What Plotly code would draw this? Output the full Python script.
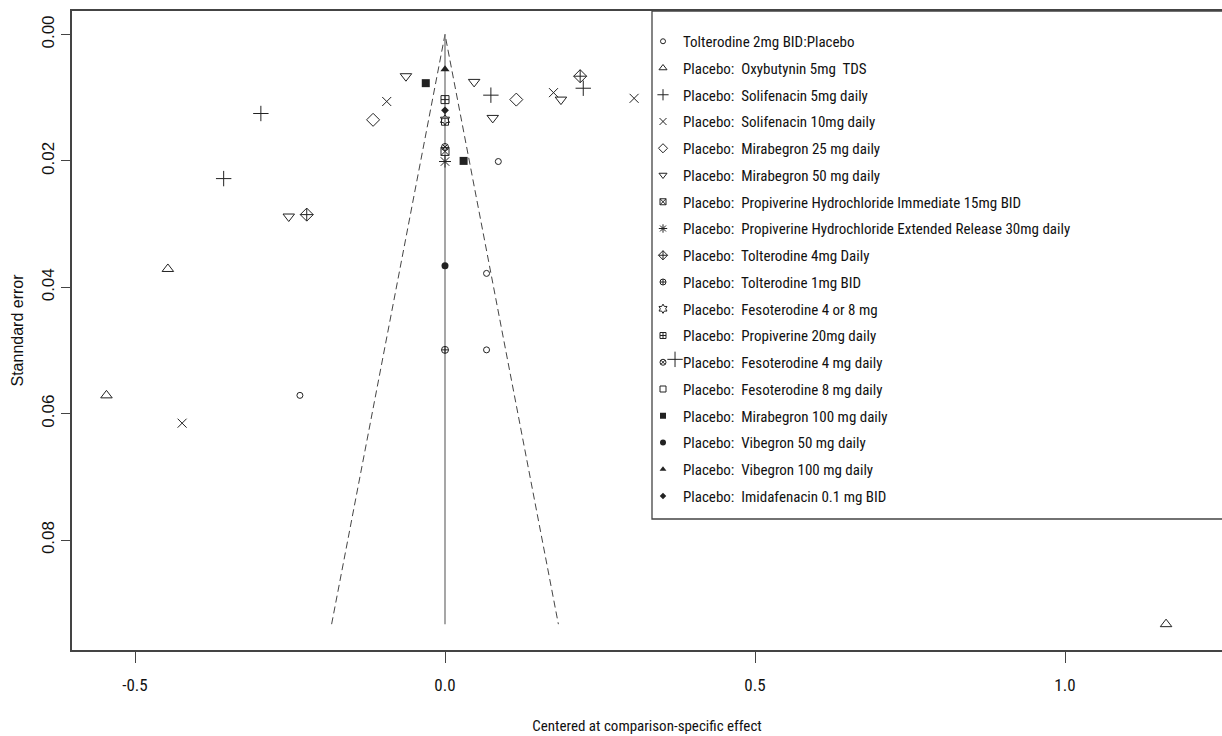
import plotly.graph_objects as go

# ---------------- data (centered effect, standard error) ----------------
series_names = [
    "Tolterodine 2mg BID:Placebo",
    "Placebo:  Oxybutynin 5mg  TDS",
    "Placebo:  Solifenacin 5mg daily",
    "Placebo:  Solifenacin 10mg daily",
    "Placebo:  Mirabegron 25 mg daily",
    "Placebo:  Mirabegron 50 mg daily",
    "Placebo:  Propiverine Hydrochloride Immediate 15mg BID",
    "Placebo:  Propiverine Hydrochloride Extended Release 30mg daily",
    "Placebo:  Tolterodine 4mg Daily",
    "Placebo:  Tolterodine 1mg BID",
    "Placebo:  Fesoterodine 4 or 8 mg",
    "Placebo:  Propiverine 20mg daily",
    "Placebo:  Fesoterodine 4 mg daily",
    "Placebo:  Fesoterodine 8 mg daily",
    "Placebo:  Mirabegron 100 mg daily",
    "Placebo:  Vibegron 50 mg daily",
    "Placebo:  Vibegron 100 mg daily",
    "Placebo:  Imidafenacin 0.1 mg BID",
]

tolt2_x = [0.086, 0.067, 0.067, -0.234]
tolt2_se = [0.0201, 0.0378, 0.0499, 0.0571]
oxy_x = [-0.447, -0.546, 1.163]
oxy_se = [0.0371, 0.0571, 0.0933]
soli5_x = [-0.297, -0.357, 0.074, 0.223, 0.371]
soli5_se = [0.0125, 0.0228, 0.0096, 0.0085, 0.0514]
soli10_x = [-0.094, 0.175, 0.305, -0.424]
soli10_se = [0.0106, 0.0092, 0.0101, 0.0615]
mira25_x = [-0.116, 0.115]
mira25_se = [0.0135, 0.0103]
mira50_x = [-0.063, 0.047, 0.077, 0.187, -0.252]
mira50_se = [0.0066, 0.0075, 0.0132, 0.0103, 0.0288]
propIR_x = [0.0]
propIR_se = [0.0185]
propER_x = [0.0]
propER_se = [0.0201]
tolt4_x = [0.218, -0.223]
tolt4_se = [0.0066, 0.0285]
tolt1_x = [0.0]
tolt1_se = [0.0499]
feso48_x = [0.0]
feso48_se = [0.0135]
prop20_x = [0.0]
prop20_se = [0.0103]
feso4_x = [0.0]
feso4_se = [0.0178]
feso8_x = [0.0]
feso8_se = [0.0138]
mira100_x = [-0.031, 0.030]
mira100_se = [0.0077, 0.0200]
vibe50_x = [0.0]
vibe50_se = [0.0366]
vibe100_x = [0.0]
vibe100_se = [0.0055]
imida_x = [0.0]
imida_se = [0.0120]

x_ticks = [-0.5, 0.0, 0.5, 1.0]
x_ticktext = ["-0.5", "0.0", "0.5", "1.0"]
y_ticks = [0.0, 0.02, 0.04, 0.06, 0.08]
y_ticktext = ["0.00", "0.02", "0.04", "0.06", "0.08"]

series_x = [tolt2_x, oxy_x, soli5_x, soli10_x, mira25_x, mira50_x, propIR_x, propER_x,
            tolt4_x, tolt1_x, feso48_x, prop20_x, feso4_x, feso8_x, mira100_x,
            vibe50_x, vibe100_x, imida_x]
series_se = [tolt2_se, oxy_se, soli5_se, soli10_se, mira25_se, mira50_se, propIR_se, propER_se,
             tolt4_se, tolt1_se, feso48_se, prop20_se, feso4_se, feso8_se, mira100_se,
             vibe50_se, vibe100_se, imida_se]

# ---------------- styles ----------------
symbols = ["circle-open", "triangle-up-open", "cross-thin-open", "x-thin-open", "diamond-open",
           "triangle-down-open", "square-x-open", "asterisk-open", "diamond-cross-open",
           "circle-cross-open", "hexagram-open", "square-cross-open", "circle-x-open",
           "square-open", "square", "circle", "triangle-up", "diamond"]
plot_sizes = [6, 10, 11, 9, 10, 10, 8, 10, 10, 7, 8, 8, 7, 7, 8, 7, 8, 6]
legend_sizes = [5, 7, 8, 7, 7, 7, 6, 7, 7, 6, 7, 6, 6, 6, 6, 6, 6, 5]
INK = "#222222"
NARROW = "Liberation Sans Narrow, Arial Narrow, Roboto Condensed, Liberation Sans, sans-serif"
REG = "Liberation Sans, Arial, sans-serif"

fig = go.Figure()

# funnel
se_max = max(max(s) for s in series_se)
fig.add_trace(go.Scatter(x=[-1.96 * se_max, 0, 1.96 * se_max], y=[se_max, 0, se_max],
                         mode="lines", line=dict(color="#444444", width=1, dash="7px,4px"),
                         showlegend=False, hoverinfo="skip"))
fig.add_trace(go.Scatter(x=[0, 0], y=[0, se_max], mode="lines",
                         line=dict(color="#777777", width=1.3),
                         showlegend=False, hoverinfo="skip"))

for i, name in enumerate(series_names):
    filled = not symbols[i].endswith("open")
    fig.add_trace(go.Scatter(
        x=series_x[i], y=series_se[i], mode="markers", name=name, showlegend=False,
        marker=dict(symbol=symbols[i], size=plot_sizes[i], color=INK,
                    line=dict(color=INK, width=1 if not filled else 0)),
    ))
# legend entries
for i, name in enumerate(series_names):
    filled = not symbols[i].endswith("open")
    fig.add_trace(go.Scatter(
        x=[None], y=[None], mode="markers", name=name, legendgroup=f"g{i}",
        marker=dict(symbol=symbols[i], size=legend_sizes[i], color=INK,
                    line=dict(color=INK, width=1 if not filled else 0)),
    ))

PL, PR, PT, PB = 72, 1222, 11, 650
W, H = 1222, 736
fig.add_shape(type="rect", xref="paper", yref="paper",
              x0=(652 - PL) / (PR - PL), x1=1.05, y0=(PB - 519) / (PB - PT), y1=1,
              line=dict(color="#444444", width=1.3), layer="above")

fig.update_layout(
    width=W, height=H,
    margin=dict(l=PL, r=W - PR, t=PT, b=H - PB),
    paper_bgcolor="white", plot_bgcolor="white",
    showlegend=True,
    legend=dict(x=(643 - PL) / (PR - PL), y=1 - (25 - PT) / (PB - PT), xanchor="left", yanchor="top",
                bgcolor="rgba(0,0,0,0)", borderwidth=0, tracegroupgap=4.25,
                font=dict(family=NARROW, size=15, color="#111111"), itemsizing="trace"),
    xaxis=dict(range=[(PL - 445) / 620, (PR - 445) / 620], tickvals=x_ticks, ticktext=x_ticktext,
               ticks="outside", ticklen=11, tickwidth=1, tickcolor="#444444",
               showline=True, linecolor="#444444", linewidth=1.5, mirror=True,
               showgrid=False, zeroline=False, ticklabelstandoff=8,
               tickfont=dict(family=NARROW, size=17, color="#111111"),
               title=dict(text="Centered at comparison-specific effect", standoff=26,
                          font=dict(family=NARROW, size=15, color="#111111"))),
    yaxis=dict(range=[(PB - 34.5) / 6320, (PT - 34.5) / 6320], tickvals=y_ticks, ticktext=y_ticktext,
               tickangle=-90, ticks="outside", ticklen=9, tickwidth=1, tickcolor="#444444",
               showline=True, linecolor="#444444", linewidth=1.5, mirror=False,
               showgrid=False, zeroline=False,
               tickfont=dict(family=REG, size=17, color="#111111"),
               title=dict(text="Stanndard error", standoff=12,
                          font=dict(family=REG, size=16, color="#111111"))),
)

fig.write_html("out.html", config={"displayModeBar": False},
               post_script="document.body.style.margin='0';")
